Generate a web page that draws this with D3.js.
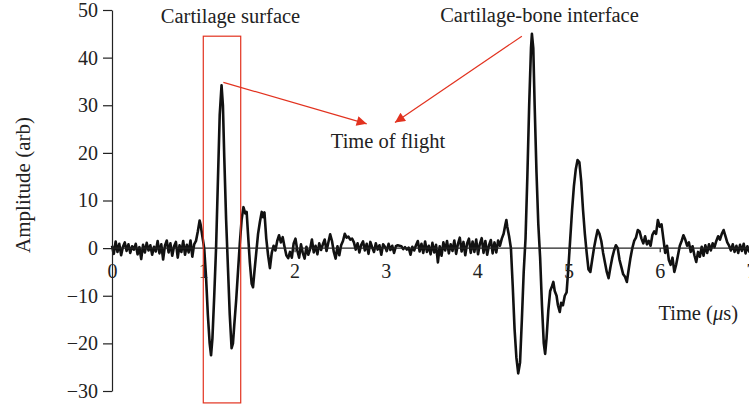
<!DOCTYPE html>
<html>
<head>
<meta charset="utf-8">
<script src="https://cdn.jsdelivr.net/npm/d3@7"></script>
<style>
  body { margin: 0; background: #fff; }
  svg text { font-family: "Liberation Serif", "DejaVu Serif", serif; fill: #222; }
  .axis path, .axis line { stroke: #222; stroke-width: 1.2; }
</style>
</head>
<body>
<div id="chart"></div>
<script>
// pulse-echo trace, [time (us), amplitude (arb)]
var baselineNoise = [
  [0.00,0.5],[0.02,-1.2],[0.04,1.4],[0.06,-0.8],[0.08,0.9],[0.10,-1.5],[0.12,0.3],[0.14,1.2],[0.16,-0.6],
  [0.18,0.8],[0.20,-1.0],[0.22,0.4],[0.24,-0.3],[0.26,0.9],[0.28,-1.3],[0.30,0.2],[0.32,-2.3],[0.34,0.7],
  [0.36,-0.9],[0.38,1.1],[0.40,-0.5],[0.42,0.6],[0.44,-1.4],[0.46,0.3],[0.48,-0.7],[0.50,1.5],[0.52,-1.1],
  [0.54,0.8],[0.56,-2.4],[0.58,0.5],[0.60,1.6],[0.62,-0.9],[0.64,1.0],[0.66,-1.6],[0.68,0.4],[0.70,1.3],
  [0.72,-2.0],[0.74,0.6],[0.76,-0.8],[0.78,1.5],[0.80,-1.4],[0.82,0.7],[0.84,-0.9],[0.86,1.6],[0.88,-1.8],
  [0.90,0.8],[0.92,1.5]
];

var surfaceEcho = [
  [0.94,3.5],[0.96,5.8],[0.97,5.0],[0.99,2.5],[1.01,0],[1.03,-6],[1.05,-14],[1.07,-20],[1.085,-22.5],
  [1.10,-19],[1.12,-10],[1.14,0],[1.16,14],[1.18,28],[1.20,34.2],[1.215,30],[1.23,19],[1.25,6],[1.27,-4],
  [1.29,-14],[1.31,-21],[1.325,-20],[1.34,-16],[1.36,-11],[1.38,-5],[1.40,1],[1.42,6],[1.44,8.6],[1.46,7.3],
  [1.475,7.6],[1.49,3],[1.51,-3],[1.53,-7.5],[1.545,-8.2],[1.56,-5],[1.58,-1],[1.60,3],[1.62,5.5],[1.64,7.6],
  [1.655,6.5],[1.67,7.5],[1.69,2],[1.71,-1.5],[1.73,-4.2],[1.75,-1],[1.77,0.5],[1.79,-0.5],[1.81,1.5],
  [1.83,2.7],[1.85,1.2],[1.87,2.3],[1.89,0.3],[1.91,-1.5],[1.93,-2.1],[1.95,-0.8],[1.97,-2.0],[1.99,1.0]
];

var midNoise = [
  [2.01,2.0],[2.03,-0.5],[2.05,-2.0],[2.07,0.8],[2.09,-1.0],[2.11,-2.2],[2.13,0.3],[2.15,-1.4],[2.17,-0.2],
  [2.19,1.8],[2.21,-0.9],[2.23,0.5],[2.25,-1.3],[2.27,1.0],[2.29,-0.4],[2.31,0.8],[2.33,1.8],[2.35,-0.6],
  [2.37,1.2],[2.39,2.9],[2.41,1.5],[2.43,-0.8],[2.45,-2.2],[2.47,0.4],[2.49,-1.5],[2.51,0.6],[2.53,1.5],
  [2.55,3.0],[2.57,2.2],[2.59,2.4],[2.61,1.8],[2.63,2.0],[2.65,1.2],[2.67,-0.3],[2.69,1.0],[2.71,-0.9],
  [2.73,0.7],[2.75,1.4],[2.77,-0.5],[2.79,0.9],[2.81,-1.2],[2.83,1.3],[2.85,0.2],[2.87,-0.8],[2.89,1.0],
  [2.91,-0.3],[2.93,0.6],[2.95,-1.4],[2.97,0.8],[2.99,0.3],[3.01,-0.6],[3.03,0.9],[3.05,-0.4],[3.07,0.5],
  [3.09,-1.0],[3.11,0.4],[3.13,0.6],[3.15,0.5],[3.17,0.4],[3.19,-0.2],[3.21,0.2],[3.23,-0.3],[3.25,0.1],
  [3.27,-1.4],[3.29,0.3],[3.31,-0.5],[3.33,0.6],[3.35,1.5],[3.37,-0.7],[3.39,0.9],[3.41,-1.0],[3.43,1.4],
  [3.45,-0.8],[3.47,0.5],[3.49,-1.3],[3.51,1.1],[3.53,-0.9],[3.55,0.7],[3.57,-3.0],[3.59,0.4],[3.61,-1.6],
  [3.63,1.2],[3.65,-0.5],[3.67,1.5],[3.69,-1.1],[3.71,0.8],[3.73,-0.6],[3.75,1.6],[3.77,-1.2],[3.79,0.9],
  [3.81,2.2],[3.83,-0.7],[3.85,1.3],[3.87,-1.5],[3.89,1.0],[3.91,2.0],[3.93,-1.0],[3.95,1.4],[3.97,-0.8],
  [3.99,1.8],[4.01,-1.3],[4.03,0.9],[4.05,2.1],[4.07,-1.0],[4.09,1.5],[4.11,-1.4],[4.13,0.6],[4.15,1.7],
  [4.17,-1.1],[4.19,1.2],[4.21,-0.9],[4.23,1.6],[4.25,0.5],[4.27,2.0]
];

var interfaceEcho = [
  [4.29,3.0],[4.31,5.0],[4.32,5.9],[4.33,4.5],[4.35,2.5],[4.37,0],[4.39,-8],[4.41,-17],[4.43,-23],
  [4.45,-26.3],[4.47,-24],[4.49,-15],[4.51,-5],[4.53,2],[4.55,15],[4.57,30],[4.59,42],[4.60,45],
  [4.615,42],[4.63,30],[4.65,16],[4.67,5],[4.69,-2],[4.71,-12],[4.73,-20],[4.745,-22.2],[4.76,-19],
  [4.78,-13],[4.80,-9],[4.82,-8],[4.835,-7.1],[4.85,-9],[4.87,-10],[4.885,-12],[4.905,-13.4],[4.92,-11.5],
  [4.94,-12],[4.96,-10],[4.98,-9.3],[5.00,-4],[5.02,2],[5.04,8],[5.06,13],[5.08,16.5],[5.10,18.5],
  [5.12,18],[5.14,14],[5.16,8],[5.18,3],[5.20,-1],[5.22,-4.5],[5.24,-5],[5.26,-2.5],[5.28,0],[5.30,2],
  [5.32,3.8],[5.34,3.0],[5.36,1.5],[5.38,-1],[5.40,-3],[5.42,-5],[5.44,-6.3],[5.46,-4],[5.48,-2],
  [5.50,-0.5],[5.52,0.6],[5.54,0],[5.56,-2.5],[5.58,-4],[5.60,-5.5],[5.62,-6],[5.64,-7.1],[5.66,-4.5],
  [5.68,-2],[5.70,0]
];

var tailNoise = [
  [5.72,1.5],[5.74,2.2],[5.76,3.8],[5.78,3.5],[5.80,2.0],[5.82,1.0],[5.84,2.5],[5.86,0.8],[5.88,1.5],
  [5.90,0.5],[5.92,2.8],[5.94,3.5],[5.96,3.0],[5.98,5.9],[6.00,4.5],[6.02,5.0],[6.04,2.0],[6.06,-1.0],
  [6.08,0.5],[6.10,-2.5],[6.12,-3.5],[6.14,-2.0],[6.16,-5.0],[6.18,-3.5],[6.20,-1.5],[6.22,0.5],[6.24,1.5],
  [6.26,2.7],[6.28,1.8],[6.30,0.5],[6.32,1.2],[6.34,-0.8],[6.36,0.4],[6.38,-1.5],[6.40,-2.9],[6.42,-0.8],
  [6.44,-1.8],[6.46,0.3],[6.48,-1.6],[6.50,0.6],[6.52,-1.0],[6.54,0.8],[6.56,-0.5],[6.58,1.0],[6.60,0.2],
  [6.62,1.5],[6.64,2.5],[6.66,1.8],[6.68,3.0],[6.70,3.8],[6.72,2.5],[6.74,1.2],[6.76,0.5],[6.78,-0.5],
  [6.80,0.8],[6.82,-0.8],[6.84,0.5],[6.86,-1.0],[6.88,0.7],[6.90,-0.6],[6.92,0.9],[6.94,-1.1],[6.96,0.4],
  [6.98,-0.7],[7.00,0.3]
];

var xTicks = [0, 1, 2, 3, 4, 5, 6, 7];
var yTicks = [-30, -20, -10, 0, 10, 20, 30, 40, 50];

// annotation anchors in data units
var surfaceBox = { t0: 1.00, t1: 1.41, a0: -32.5, a1: 44.5 };

var width = 749, height = 406;

var svg = d3.select("#chart").append("svg")
  .attr("width", width)
  .attr("height", height);

var x = d3.scaleLinear().domain([0, 7]).range([112, 751]);
var y = d3.scaleLinear().domain([-30, 50]).range([391, 10]);

var trace = baselineNoise.concat(surfaceEcho, midNoise, interfaceEcho, tailNoise);

var line = d3.line()
  .x(function(d){ return x(d[0]); })
  .y(function(d){ return y(d[1]); });

svg.append("path")
  .datum(trace)
  .attr("d", line)
  .attr("fill", "none")
  .attr("stroke", "#111")
  .attr("stroke-width", 2.6)
  .attr("stroke-linejoin", "round");

// y axis
var yAxis = d3.axisLeft(y)
  .tickValues(yTicks)
  .tickSizeInner(9)
  .tickSizeOuter(0)
  .tickPadding(5);

var yAxisGroup = svg.append("g")
  .attr("class", "axis")
  .attr("transform", "translate(112,0)")
  .call(yAxis);
yAxisGroup.selectAll("text")
  .style("font-size", "20px")
  .attr("fill", "#222");

// x axis along the zero line
var xAxis = d3.axisBottom(x)
  .tickValues(xTicks)
  .tickSizeInner(4)
  .tickSizeOuter(0)
  .tickPadding(12)
  .tickFormat(d3.format("d"));

var xAxisGroup = svg.append("g")
  .attr("class", "axis")
  .attr("transform", "translate(0," + y(0) + ")")
  .call(xAxis);
xAxisGroup.selectAll("text")
  .style("font-size", "20px")
  .attr("fill", "#222");
xAxisGroup.select(".domain").attr("d", "M112,0H749");

// axis titles
svg.append("text")
  .attr("transform", "translate(30,185) rotate(-90)")
  .style("text-anchor", "middle")
  .style("font-size", "21px")
  .text("Amplitude (arb)");

var xTitle = svg.append("text")
  .attr("x", 738)
  .attr("y", 320)
  .style("text-anchor", "end")
  .style("font-size", "20.5px");
xTitle.append("tspan").text("Time (");
xTitle.append("tspan").style("font-style", "italic").text("\u03bc");
xTitle.append("tspan").text("s)");

// annotations
var red = "#e2321f";

svg.append("defs").append("marker")
  .attr("id", "arrow")
  .attr("viewBox", "0 0 10 10")
  .attr("refX", 10)
  .attr("refY", 5)
  .attr("markerUnits", "userSpaceOnUse")
  .attr("markerWidth", 12)
  .attr("markerHeight", 10)
  .attr("orient", "auto")
  .append("path")
  .attr("d", "M0,0L10,5L0,10Z")
  .attr("fill", red);

svg.append("rect")
  .attr("x", x(surfaceBox.t0))
  .attr("y", y(surfaceBox.a1))
  .attr("width", x(surfaceBox.t1) - x(surfaceBox.t0))
  .attr("height", y(surfaceBox.a0) - y(surfaceBox.a1))
  .attr("fill", "none")
  .attr("stroke", red)
  .attr("stroke-width", 1.2);

svg.append("line")
  .attr("x1", x(1.22)).attr("y1", y(34.8))
  .attr("x2", x(2.79)).attr("y2", y(26.1))
  .attr("stroke", red)
  .attr("stroke-width", 1.2)
  .attr("marker-end", "url(#arrow)");

svg.append("line")
  .attr("x1", x(4.49)).attr("y1", y(44.5))
  .attr("x2", x(3.10)).attr("y2", y(26.4))
  .attr("stroke", red)
  .attr("stroke-width", 1.2)
  .attr("marker-end", "url(#arrow)");

svg.append("text")
  .attr("x", 230.5).attr("y", 23)
  .style("text-anchor", "middle")
  .style("font-size", "20.5px")
  .text("Cartilage surface");

svg.append("text")
  .attr("x", 539.5).attr("y", 22)
  .style("text-anchor", "middle")
  .style("font-size", "20.5px")
  .text("Cartilage-bone interface");

svg.append("text")
  .attr("x", 388).attr("y", 148)
  .style("text-anchor", "middle")
  .style("font-size", "20.5px")
  .text("Time of flight");
</script>
</body>
</html>
